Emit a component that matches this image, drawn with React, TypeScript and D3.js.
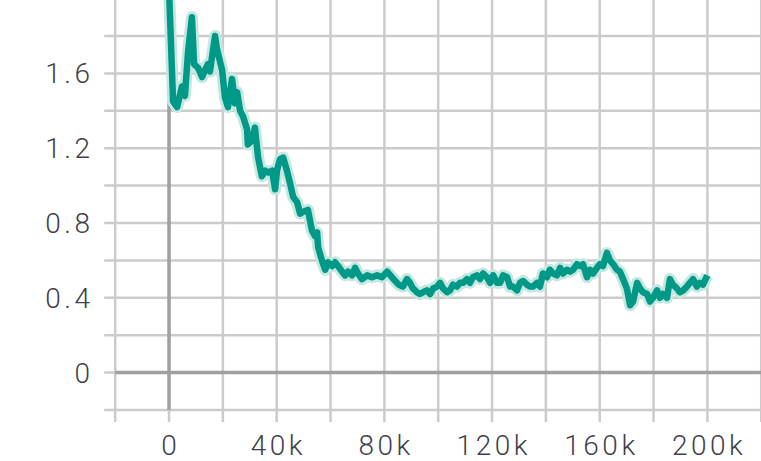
import React, { useEffect, useRef } from 'react';
import * as d3 from 'd3';

// training steps (in thousands) and the smoothed loss
const steps = [
  0, 1.5, 3.0, 4.8, 5.9, 7.1, 8.5, 9.3, 10.8, 12.3, 13.4, 14.5, 15.2, 17.1, 17.8, 19.7,
  20.8, 21.9, 23.4, 24.5, 25.3, 26.4, 27.5, 29.0, 29.3, 30.8, 31.9, 33.1, 34.5, 35.7,
  36.8, 38.3, 39.4, 40.1, 41.2, 42.4, 43.8, 45.0, 46.1, 47.6, 48.7, 49.8, 51.6, 53.1,
  54.2, 55.0, 55.4, 56.8, 58.0, 59.1, 60.6, 61.7, 62.8, 64.3, 65.4, 66.5, 68.0, 69.1,
  70.2, 71.7, 73.6, 75.4, 77.3, 79.1, 81.0, 82.8, 84.7, 85.4, 86.9, 88.4, 89.5, 90.6,
  92.1, 93.2, 94.4, 95.8, 97.0, 98.1, 99.6, 100.7, 101.8, 103.3, 104.4, 105.5, 107.0,
  108.1, 109.2, 110.7, 111.8, 112.9, 114.4, 115.5, 116.7, 118.1, 119.3, 120.4, 121.9,
  123.0, 124.1, 125.6, 126.7, 127.8, 129.3, 130.4, 131.5, 133.0, 134.1, 135.2, 136.7,
  137.8, 138.9, 140.4, 141.5, 142.7, 144.1, 145.3, 146.4, 147.9, 149.0, 150.1, 151.6,
  152.7, 153.8, 155.3, 156.4, 157.5, 159.0, 160.1, 161.2, 162.7, 163.8, 165.0, 166.4,
  167.5, 168.7, 170.1, 171.3, 172.4, 173.9, 175.0, 176.1, 177.6, 178.7, 179.8, 181.3,
  182.4, 183.5, 185.0, 186.1, 187.2, 188.7, 189.8, 191.0, 192.4, 193.5, 194.7, 196.1,
  197.2, 198.4, 200.0,
];
const loss = [
  2.05, 1.45, 1.42, 1.53, 1.48, 1.72, 1.90, 1.65, 1.63, 1.58, 1.62, 1.65, 1.61, 1.80, 1.73, 1.62,
  1.47, 1.42, 1.57, 1.44, 1.50, 1.40, 1.37, 1.30, 1.22, 1.24, 1.31, 1.15, 1.05, 1.08,
  1.07, 1.08, 0.98, 1.08, 1.14, 1.15, 1.08, 1.01, 0.94, 0.91, 0.85, 0.86, 0.87, 0.76,
  0.73, 0.75, 0.67, 0.60, 0.55, 0.59, 0.57, 0.59, 0.57, 0.54, 0.52, 0.54, 0.52, 0.56,
  0.53, 0.50, 0.52, 0.51, 0.52, 0.51, 0.54, 0.51, 0.48, 0.47, 0.46, 0.50, 0.48, 0.45,
  0.43, 0.42, 0.43, 0.44, 0.42, 0.45, 0.46, 0.48, 0.45, 0.43, 0.44, 0.47, 0.46,
  0.48, 0.48, 0.50, 0.48, 0.51, 0.52, 0.50, 0.53, 0.51, 0.48, 0.52, 0.48,
  0.48, 0.52, 0.51, 0.46, 0.46, 0.44, 0.48, 0.49, 0.47, 0.46, 0.46, 0.48,
  0.46, 0.53, 0.51, 0.55, 0.53, 0.52, 0.56, 0.53, 0.55, 0.54, 0.55, 0.58,
  0.57, 0.58, 0.51, 0.55, 0.53, 0.56, 0.58, 0.57, 0.64, 0.60, 0.58, 0.55,
  0.54, 0.50, 0.45, 0.36, 0.38, 0.48, 0.45, 0.43, 0.42, 0.38, 0.40, 0.44,
  0.40, 0.42, 0.40, 0.50, 0.47, 0.45, 0.43, 0.44, 0.46, 0.48, 0.50, 0.46,
  0.48, 0.47, 0.52,
];
const xTicks = [0, 40, 80, 120, 160, 200];
const yTicks = [0, 0.4, 0.8, 1.2, 1.6];

const width = 761;
const height = 461;
const teal = '#009887';

const LossChart = () => {
  const ref = useRef<SVGSVGElement>(null);

  useEffect(() => {
    const svg = d3.select(ref.current);
    svg.selectAll('*').remove();

    const x = d3.scaleLinear().domain([-20, 220]).range([115.2, 761.2]);
    const y = d3.scaleLinear().domain([-0.2, 2.0]).range([410, -1.4]);
    const plotBottom = y(-0.2);
    const plotLeft = x(-20);

    // grid
    const grid = svg.append('g');
    grid.selectAll('line.v')
      .data(x.ticks(12))
      .enter()
      .append('line')
      .attr('class', 'v')
      .attr('x1', d => x(d)).attr('x2', d => x(d))
      .attr('y1', 0).attr('y2', plotBottom + 12)
      .attr('stroke', '#cbcbcb')
      .attr('stroke-width', 2.5);
    grid.selectAll('line.h')
      .data(y.ticks(11))
      .enter()
      .append('line')
      .attr('class', 'h')
      .attr('x1', plotLeft - 11).attr('x2', width)
      .attr('y1', d => y(d)).attr('y2', d => y(d))
      .attr('stroke', '#cbcbcb')
      .attr('stroke-width', 2.5);

    // zero lines
    grid.append('line')
      .attr('x1', x(0)).attr('x2', x(0))
      .attr('y1', 0).attr('y2', plotBottom)
      .attr('stroke', '#a0a0a0').attr('stroke-width', 3.5);
    grid.append('line')
      .attr('x1', plotLeft).attr('x2', width)
      .attr('y1', y(0)).attr('y2', y(0))
      .attr('stroke', '#a0a0a0').attr('stroke-width', 3.5);

    // labels
    const label = (sel: any) => sel
      .attr('font-family', 'Roboto, sans-serif')
      .attr('font-weight', 300)
      .attr('font-size', 28)
      .attr('letter-spacing', 3.5)
      .attr('fill', '#3f3f4a');
    svg.append('g').selectAll('text')
      .data(yTicks)
      .enter()
      .append('text')
      .call(label)
      .attr('text-anchor', 'end')
      .attr('x', 93.5)
      .attr('y', d => y(d) + 10)
      .text(d => d3.format('~g')(d));
    svg.append('g').selectAll('text')
      .data(xTicks)
      .enter()
      .append('text')
      .call(label)
      .attr('text-anchor', 'middle')
      .attr('x', d => x(d) + 1.75)
      .attr('y', 455)
      .text(d => (d === 0 ? '0' : `${d}k`));

    // series
    svg.append('clipPath').attr('id', 'plot-clip')
      .append('rect')
      .attr('x', plotLeft).attr('y', 0)
      .attr('width', width - plotLeft).attr('height', plotBottom);

    const points = steps.map((s, i) => [s, loss[i]] as [number, number]);
    const line = d3.line<[number, number]>()
      .x(d => x(d[0]))
      .y(d => y(d[1]));

    const series = svg.append('g').attr('clip-path', 'url(#plot-clip)');
    series.append('path')
      .attr('d', line(points))
      .attr('fill', 'none')
      .attr('stroke', '#c4e7e2')
      .attr('stroke-width', 12)
      .attr('stroke-linejoin', 'round');
    series.append('path')
      .attr('d', line(points))
      .attr('fill', 'none')
      .attr('stroke', teal)
      .attr('stroke-width', 6.5)
      .attr('stroke-linejoin', 'round');
  }, []);

  return (
    <svg
      ref={ref}
      width={width}
      height={height}
      style={{ position: 'absolute', left: 0, top: 0, background: '#fff' }}
    />
  );
};

export default function App() {
  return <LossChart />;
}
